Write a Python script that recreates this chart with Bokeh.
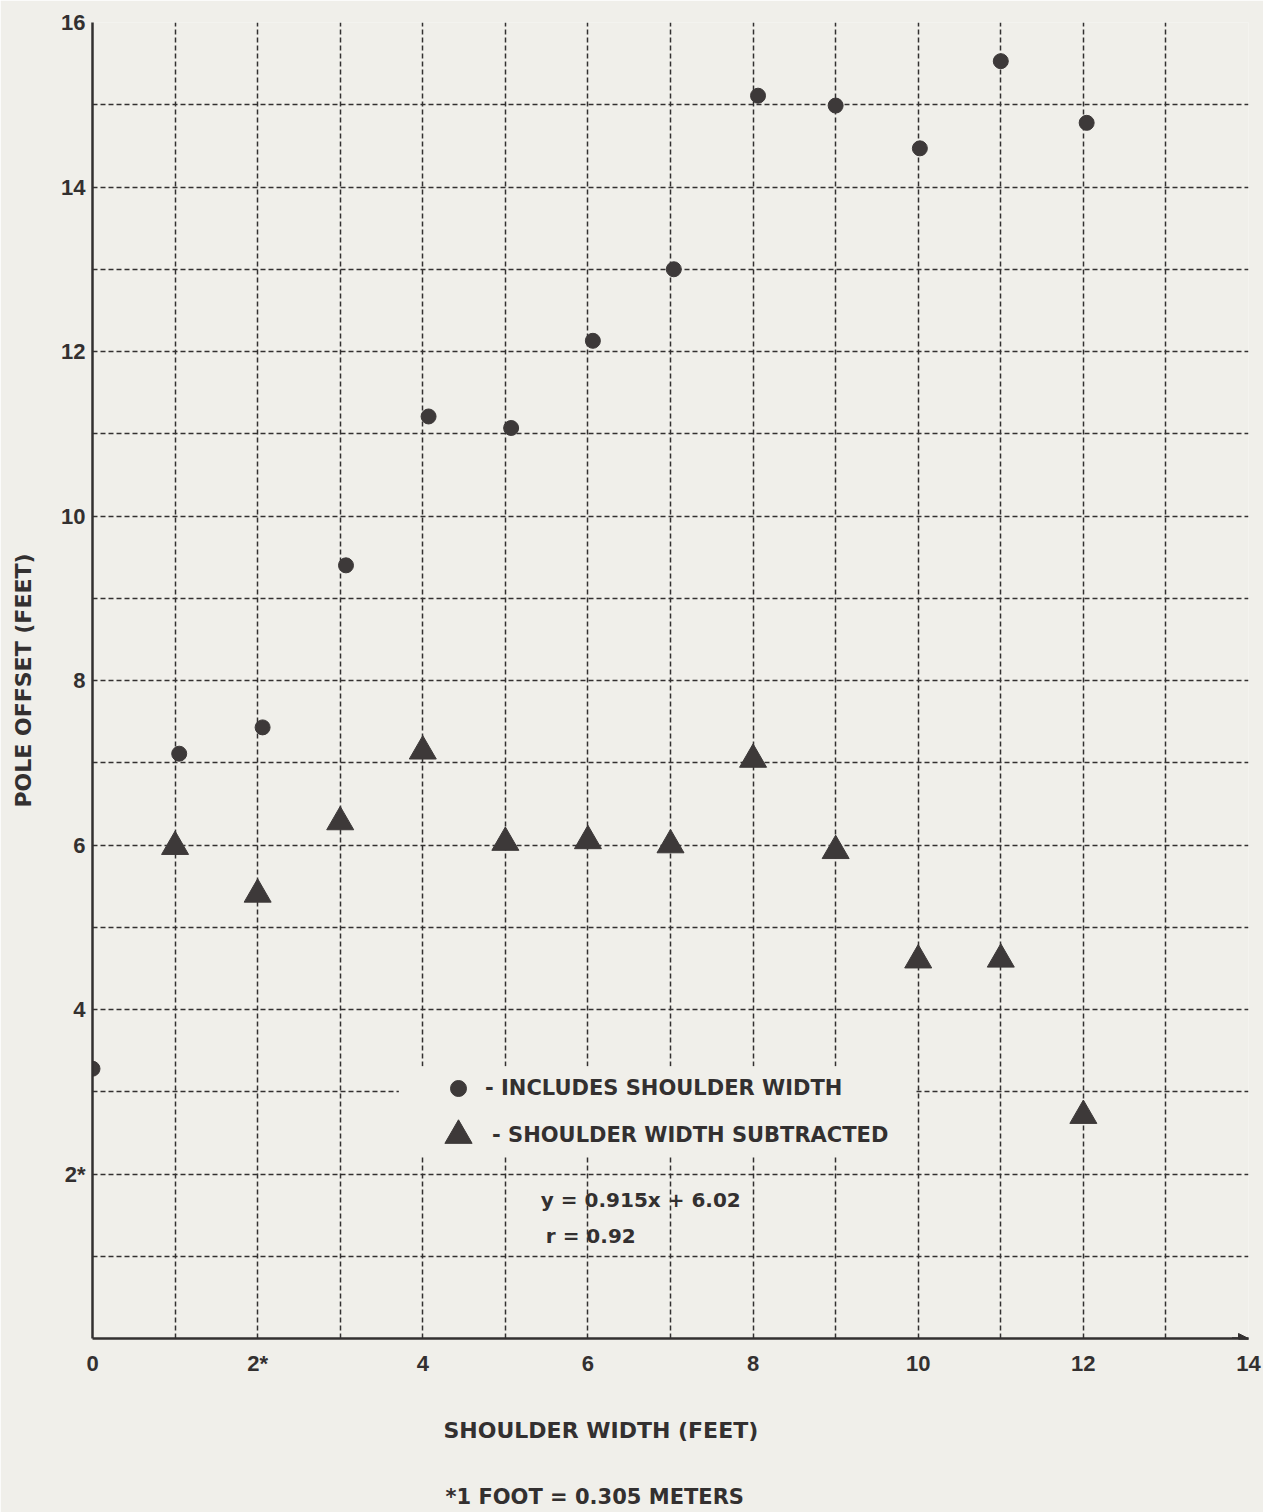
from bokeh.plotting import figure
from bokeh.models import (FixedTicker, Legend, LegendItem, Label, BoxAnnotation,
                          Arrow, NormalHead, Title)
from bokeh.embed import file_html
from bokeh.resources import INLINE

# ---- data ----
incl_x = [0.0, 1.05, 2.06, 3.07, 4.07, 5.07, 6.06, 7.04, 8.06, 9.0, 10.02, 11.0, 12.04]
incl_y = [3.28, 7.11, 7.43, 9.40, 11.21, 11.07, 12.13, 13.0, 15.11, 14.99, 14.47, 15.53, 14.78]
sub_x = [1, 2, 3, 4, 5, 6, 7, 8, 9, 10, 11, 12]
sub_y = [5.98, 5.40, 6.28, 7.14, 6.03, 6.05, 6.00, 7.04, 5.93, 4.60, 4.61, 2.71]

x_ticks = [0, 2, 4, 6, 8, 10, 12, 14]
x_tick_labels = {0: "0", 2: "2*", 4: "4", 6: "6", 8: "8", 10: "10", 12: "12", 14: "14"}
y_ticks = [2, 4, 6, 8, 10, 12, 14, 16]
y_tick_labels = {2: "2*", 4: "4", 6: "6", 8: "8", 10: "10", 12: "12", 14: "14", 16: "16"}
grid_x = list(range(0, 15))
grid_y = list(range(0, 17))

label_incl = "- INCLUDES SHOULDER WIDTH"
label_sub = "- SHOULDER WIDTH SUBTRACTED"
equation = "y = 0.915x + 6.02"
corr = "r = 0.92"
x_title = "SHOULDER WIDTH (FEET)"
y_title = "POLE OFFSET (FEET)"
footnote = "*1 FOOT = 0.305 METERS"

BG = "#f0efea"
INK = "#333030"
MARK = "#3d3939"
TXT_FONT = "DejaVu Sans"
NUM_FONT = "Liberation Sans"

p = figure(width=1263, height=1512, x_range=(0, 14), y_range=(0, 16),
           output_backend="svg", toolbar_location=None,
           min_border_left=92, min_border_right=15, min_border_top=22,
           min_border_bottom=174)
p.background_fill_color = BG
p.border_fill_color = BG
p.outline_line_color = None

# axes
for ax in (p.xaxis[0], p.yaxis[0]):
    ax.axis_line_width = 2.5
    ax.axis_line_color = INK
    ax.major_tick_in = 0
    ax.major_tick_out = 0
    ax.minor_tick_in = 0
    ax.minor_tick_out = 0
    ax.major_label_text_font = NUM_FONT
    ax.major_label_text_font_style = "bold"
    ax.major_label_text_font_size = "22px"
    ax.major_label_text_color = INK

p.xaxis.ticker = FixedTicker(ticks=x_ticks)
p.xaxis.major_label_overrides = x_tick_labels
p.xaxis.major_label_standoff = 12
p.yaxis.ticker = FixedTicker(ticks=y_ticks)
p.yaxis.major_label_overrides = y_tick_labels
p.yaxis.major_label_standoff = 7

p.yaxis.axis_label = y_title
p.yaxis.axis_label_text_font = TXT_FONT
p.yaxis.axis_label_text_font_style = "bold"
p.yaxis.axis_label_text_font_size = "22px"
p.yaxis.axis_label_text_color = INK
p.yaxis.axis_label_standoff = 22

# grid
p.xgrid.ticker = FixedTicker(ticks=grid_x)
p.ygrid.ticker = FixedTicker(ticks=grid_y)
for g in (p.xgrid[0], p.ygrid[0]):
    g.grid_line_color = INK
    g.grid_line_width = 1.5
    g.grid_line_dash = "5 3"
    g.grid_line_alpha = 1.0

# data marks
r_incl = p.scatter(incl_x, incl_y, marker="circle", size=15,
                   fill_color=MARK, line_color=MARK)
r_sub = p.scatter(sub_x, sub_y, marker="triangle", size=27,
                  fill_color=MARK, line_color=MARK)

# blank area behind legend
p.add_layout(BoxAnnotation(left=3.71, right=9.95, bottom=2.22, top=3.31,
                           fill_color=BG, fill_alpha=1.0, line_color=None))

# legends
def make_legend(item, loc, gsize, standoff):
    lg = Legend(items=[item], location=loc, orientation="vertical",
                glyph_width=gsize, glyph_height=gsize, label_height=gsize,
                padding=0, margin=0, spacing=0, label_standoff=standoff,
                background_fill_alpha=0, border_line_color=None,
                label_text_font=TXT_FONT, label_text_font_style="bold",
                label_text_font_size="21px", label_text_color=INK)
    return lg

p.add_layout(make_legend(LegendItem(label=label_incl, renderers=[r_incl]),
                         (346, 230), 40, 7))
p.add_layout(make_legend(LegendItem(label=label_sub, renderers=[r_sub]),
                         (332, 169), 68, -7))

# equation text
for txt, xx, yy in ((equation, 5.43, 1.68), (corr, 5.49, 1.25)):
    p.add_layout(Label(x=xx, y=yy, text=txt, text_font=TXT_FONT,
                       text_font_style="bold", text_font_size="20px",
                       text_color=INK, text_baseline="middle", text_align="left"))

# x title and footnote below the axis
t1 = Title(text=x_title, align="left", offset=351, standoff=74,
           text_font=TXT_FONT, text_font_style="bold", text_font_size="22px",
           text_color=INK)
t2 = Title(text=footnote, align="left", offset=353, standoff=6,
           text_font=TXT_FONT, text_font_style="bold", text_font_size="21px",
           text_color=INK)
p.add_layout(t1, "below")
p.add_layout(t2, "below")

# arrow at end of x axis
p.add_layout(Arrow(end=NormalHead(size=10, fill_color=INK, line_color=INK),
                   x_start=13.8, y_start=0, x_end=14.0, y_end=0,
                   line_width=2.5, line_color=INK))

open("out.html", "w").write(file_html(p, INLINE))
